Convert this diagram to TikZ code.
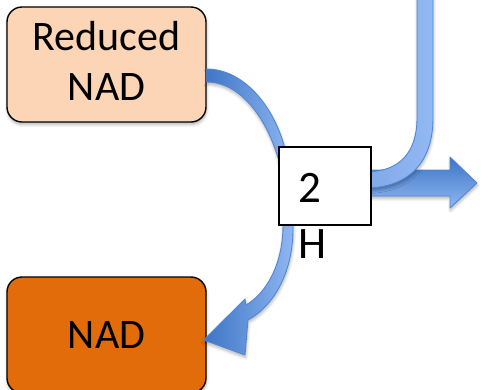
\documentclass[tikz,border=0pt]{standalone}
\usepackage{fontspec}
\setmainfont{Carlito}
\usetikzlibrary{shadows.blur,calc}

\definecolor{peach}{HTML}{FBD5B5}
\definecolor{nadorange}{HTML}{E36C0A}
\definecolor{flowdark}{HTML}{3C74C5}
\definecolor{flowlight}{HTML}{90B7F2}
\definecolor{bandleft}{HTML}{7FA8EA}
\definecolor{bandright}{HTML}{93B9F3}
\definecolor{flowedge}{HTML}{5287D2}

\tikzset{
  softshadow/.style={blur shadow={shadow xshift=0.5pt, shadow yshift=-2.5pt,
      shadow blur radius=3pt, shadow blur steps=6, shadow opacity=30}},
  stage/.style={draw=black, line width=1.4pt, rounded corners=15pt,
      minimum width=199pt, inner sep=0pt, align=center,
      font=\fontsize{42}{50}\selectfont, softshadow},
  flow/.style={draw=flowedge, line width=0.9pt, line join=round},
  carrier/.style={draw=black, fill=white, line width=1.3pt, inner sep=0pt},
  biglabel/.style={font=\fontsize{45}{50}\selectfont, inner sep=0pt, anchor=base},
}

\begin{document}
\begin{tikzpicture}[x=1pt, y=-1pt]
\useasboundingbox (0,0) rectangle (490,389);
\clip (0,0) rectangle (490,389);

% substrate boxes
\node[stage, fill=peach, minimum height=115pt] (rn) at (106.5,64.5)
  {Reduced\\NAD\rule[-8pt]{0pt}{0pt}};
\node[stage, fill=nadorange, minimum height=116pt] (nad) at (106.5,335) {NAD};

% end points of the curved flow
\coordinate (upO) at ([yshift=-4.5pt]rn.east);
\coordinate (upI) at ([yshift=-17.5pt]rn.east);
\coordinate (tip) at ([xshift=-3pt,yshift=-5pt]nad.east);

% curved flow: reduced NAD -> carrier -> NAD
\path[flow, left color=flowdark, right color=flowlight, softshadow]
  (upO) .. controls (245,69) and (278,110) .. (287,158)
  -- (293,225)
  .. controls (294,270) and (275,305) .. (248,320)
  -- (245,355) -- (tip) -- (245,299) -- (246,305)
  .. controls (268,292) and (283,262) .. (283,225)
  -- (280,165)
  .. controls (268,118) and (240,82) .. (upI) -- cycle;

% straight output arrow
\path[flow, top color=flowdark, bottom color=flowlight, softshadow]
  (365,170) -- (450,170) -- (450,157) -- (477,183) -- (450,208)
  -- (450,196) -- (365,196) -- cycle;

% incoming band from above
\path[flow, left color=bandleft, right color=bandright, softshadow]
  (417,-5) -- (417,118) .. controls (417,152) and (400,172) .. (365,172)
  -- (365,188) .. controls (408,188) and (433,163) .. (433,118)
  -- (433,-5) -- cycle;

% carrier box and its labels
\node[carrier, minimum width=92pt, minimum height=78pt] (hb) at (325,186) {};
\node[biglabel] (two) at (310,202) {2};
\node[biglabel] (hlab) at (313,258) {H};
\end{tikzpicture}
\end{document}
